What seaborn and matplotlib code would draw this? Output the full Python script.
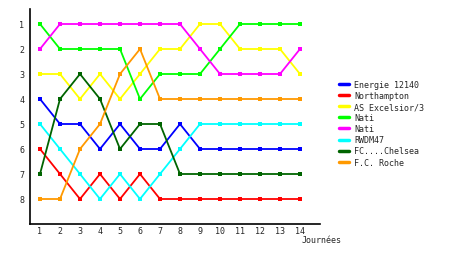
import matplotlib
matplotlib.use("Agg")
import matplotlib.pyplot as plt
import seaborn as sns
import pandas as pd

rounds = list(range(1, 15))
teams = ["Energie 12140", "Northampton", "AS Excelsior/3", "Nati", "Nati", "RWDM47", "FC....Chelsea", "F.C. Roche"]
colors = ["#0000FF", "#FF0000", "#FFFF00", "#00FF00", "#FF00FF", "#00FFFF", "#006400", "#FF9900"]

energie = [4, 5, 5, 6, 5, 6, 6, 5, 6, 6, 6, 6, 6, 6]
northampton = [6, 7, 8, 7, 8, 7, 8, 8, 8, 8, 8, 8, 8, 8]
excelsior = [3, 3, 4, 3, 4, 3, 2, 2, 1, 1, 2, 2, 2, 3]
nati1 = [1, 2, 2, 2, 2, 4, 3, 3, 3, 2, 1, 1, 1, 1]
nati2 = [2, 1, 1, 1, 1, 1, 1, 1, 2, 3, 3, 3, 3, 2]
rwdm = [5, 6, 7, 8, 7, 8, 7, 6, 5, 5, 5, 5, 5, 5]
chelsea = [7, 4, 3, 4, 6, 5, 5, 7, 7, 7, 7, 7, 7, 7]
roche = [8, 8, 6, 5, 3, 2, 4, 4, 4, 4, 4, 4, 4, 4]
series = [energie, northampton, excelsior, nati1, nati2, rwdm, chelsea, roche]

rows = []
for i, (name, vals) in enumerate(zip(teams, series)):
    for r, v in zip(rounds, vals):
        rows.append({"id": f"s{i}", "team": name, "round": r, "rank": v})
df = pd.DataFrame(rows)

sns.set_style("white")
fig = plt.figure(figsize=(4.6, 2.55), dpi=100)
ax = fig.add_axes([30/460, 1-225/255, 290/460, 215/255])

ids = [f"s{i}" for i in range(len(teams))]
sns.lineplot(data=df, x="round", y="rank", hue="id", hue_order=ids,
             palette=dict(zip(ids, colors)), marker="s", markersize=3,
             markeredgewidth=0, linewidth=1.3, ax=ax, legend=False)

ax.set_xlim(0.5, 15.0)
ax.set_ylim(9.0, 0.4)
ax.set_xticks(rounds)
ax.set_xticklabels([str(r) for r in rounds], fontsize=6, family="DejaVu Sans Mono")
ax.set_yticks(range(1, 9))
ax.set_yticklabels([str(r) for r in range(1, 9)], fontsize=6, family="DejaVu Sans Mono")
ax.tick_params(axis="x", length=0, pad=1.5)
ax.tick_params(axis="y", length=0, pad=4)
ax.set_xlabel("")
ax.set_ylabel("")
for s in ["top", "right"]:
    ax.spines[s].set_visible(False)
for s in ["left", "bottom"]:
    ax.spines[s].set_color("black")
    ax.spines[s].set_linewidth(1.2)

from matplotlib.lines import Line2D
handles = [Line2D([0], [0], color=c, linewidth=2.5) for c in colors]
fig.legend(handles, teams, loc="upper left", bbox_to_anchor=(339/460, 1-81/255),
           frameon=False, prop={"family": "DejaVu Sans Mono", "size": 6},
           handlelength=1.25, handletextpad=0.55, labelspacing=0.25, borderpad=0, borderaxespad=0)

fig.text(302/460, 1-241/255, "Journées", fontsize=6, family="DejaVu Sans Mono", va="center", ha="left")

fig.savefig("out.png", dpi=100)
